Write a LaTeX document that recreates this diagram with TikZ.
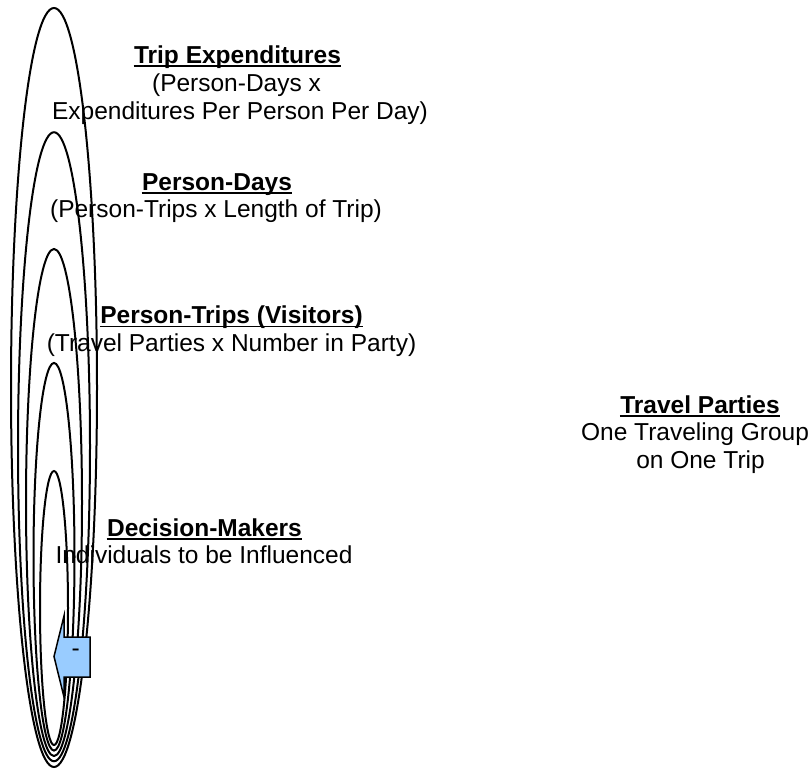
\documentclass[tikz,border=0pt]{standalone}
\usepackage{fontspec}
\setmainfont{Liberation Sans}
\definecolor{arrowblue}{RGB}{153,204,255}
\begin{document}
\begin{tikzpicture}[x=0.5pt,y=-0.5pt,
  lbl/.style={inner sep=0pt, anchor=base, font=\fontsize{12.25}{14}\selectfont},
  ttl/.style={inner sep=0pt, anchor=base, font=\fontsize{12.25}{14}\selectfont\bfseries},
  ring/.style={draw=black, line width=1pt},
  ulin/.style={line width=0.9pt},
  arrowshape/.style={draw=black, line width=0.75pt, fill=arrowblue, line join=miter}]
\useasboundingbox (0,0) rectangle (812,769);

% texts
\node[ttl] (a1) at (237.5,63.5) {Trip Expenditures};
\node[lbl] (a2) at (236.5,91.5) {(Person-Days x};
\node[lbl] (a3) at (240,119.5) {Expenditures Per Person Per Day)};

\node[ttl] (b1) at (217,190.5) {Person-Days};
\node[lbl] (b2) at (216,218) {(Person-Trips x Length of Trip)};

\node[ttl] (c1) at (231.5,324) {Person-Trips (Visitors)};
\node[lbl] (c2) at (231.5,351.5) {(Travel Parties x Number in Party)};

\node[ttl] (d1) at (204.5,536) {Decision-Makers};
\node[lbl] (d2) at (204,563.5) {Individuals to be Influenced};

\node[ttl] (e1) at (700,413) {Travel Parties};
\node[lbl] (e2) at (695,440.5) {One Traveling Group};
\node[lbl] (e3) at (700.5,468) {on One Trip};

\foreach \n in {a1,b1,c1,d1,e1}
  \draw[ulin] ([yshift=-1.3pt]\n.base west) -- ([yshift=-1.3pt]\n.base east);

% nested rings
\draw[ring] (54,387.5) ellipse [x radius=21.5pt, y radius=189.75pt];
\draw[ring] (54,446.75) ellipse [x radius=18pt, y radius=157.25pt];
\draw[ring] (54,502.5) ellipse [x radius=14pt, y radius=126.75pt];
\draw[ring] (54,556.75) ellipse [x radius=10.25pt, y radius=96.9pt];
\draw[ring] (54,608) ellipse [x radius=7pt, y radius=68.5pt];

% arrow callout
\draw[arrowshape] (64,616) -- (54,656.5) -- (64,697) -- (64,677) -- (90,677)
  -- (90,637) -- (64,637) -- cycle;
\node[lbl] (minus) at (75.7,656.5) {-};
\end{tikzpicture}
\end{document}
